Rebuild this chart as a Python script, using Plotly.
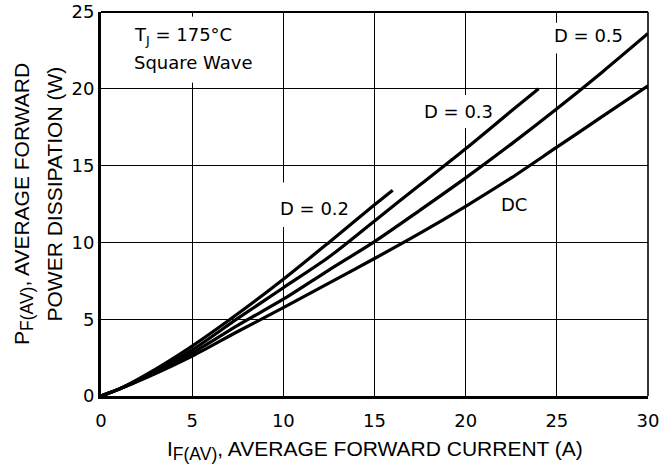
import plotly.graph_objects as go

# ---- data ----
current_d02 = [0, 1, 2.5, 5, 7.5, 10, 12.5, 15, 16]
power_d02 = [0, 0.45, 1.4, 3.25, 5.35, 7.6, 10.0, 12.45, 13.4]

current_d03 = [0, 1, 2.5, 5, 7.5, 10, 12.5, 15, 17.5, 20, 22.5, 24]
power_d03 = [0, 0.45, 1.3, 3.0, 5.05, 7.05, 9.05, 11.4, 13.75, 16.1, 18.55, 20.0]

current_d05 = [0, 1, 2.5, 5, 7.5, 10, 12.5, 15, 17.5, 20, 22.5, 25, 27.5, 30]
power_d05 = [0, 0.45, 1.25, 2.8, 4.6, 6.3, 8.2, 10.05, 12.1, 14.2, 16.4, 18.7, 21.1, 23.6]

current_dc = [0, 1, 2.5, 5, 7.5, 10, 12.5, 15, 17.5, 20, 22.5, 25, 27.5, 30]
power_dc = [0, 0.45, 1.2, 2.6, 4.2, 5.75, 7.35, 8.95, 10.6, 12.35, 14.2, 16.2, 18.2, 20.2]

x_ticks = [0, 5, 10, 15, 20, 25, 30]
y_ticks = [0, 5, 10, 15, 20, 25]

series = [
    ("D = 0.2", current_d02, power_d02),
    ("D = 0.3", current_d03, power_d03),
    ("D = 0.5", current_d05, power_d05),
    ("DC", current_dc, power_dc),
]

TICK_FONT = dict(family="DejaVu Sans", size=18, color="black")
LABEL_FONT = dict(family="DejaVu Sans", size=18, color="black")
TITLE_FONT = dict(family="Liberation Sans", size=21, color="black")

fig = go.Figure()
for name, xs, ys in series:
    fig.add_trace(go.Scatter(x=xs, y=ys, mode="lines", name=name,
                             line=dict(color="black", width=3.2, shape="spline", smoothing=0.8),
                             showlegend=False, hoverinfo="skip"))

axis_common = dict(showgrid=True, gridcolor="black", gridwidth=1, zeroline=False,
                   showline=True, linecolor="black", linewidth=3, mirror=False,
                   ticks="", tickfont=TICK_FONT, automargin=False,
                   ticklabeloverflow="allow")

fig.update_layout(
    xaxis=dict(range=[0, 30], tickvals=x_ticks, ticktext=[str(v) for v in x_ticks],
               ticklabelstandoff=6, **axis_common),
    yaxis=dict(range=[0, 25], tickvals=y_ticks, ticktext=[str(v) for v in y_ticks],
               ticklabelstandoff=0, **axis_common),
)

# thin top and right frame
fig.add_shape(type="line", xref="paper", yref="paper", x0=0, x1=1, y0=1, y1=1,
              line=dict(color="black", width=1.8), layer="above")
fig.add_shape(type="line", xref="paper", yref="paper", x0=1, x1=1, y0=0, y1=1,
              line=dict(color="black", width=1.6), layer="above")

# white breaks in the grid behind the labels (above grid, below curves)
grid_breaks = [(5, 20.4, 24.7), (10, 11.0, 13.9), (20, 17.45, 19.6), (25, 22.3, 24.3)]
for gx, ya, yb in grid_breaks:
    fig.add_shape(type="rect", xref="x", yref="y", x0=gx - 0.15, x1=gx + 0.15, y0=ya, y1=yb,
                  fillcolor="white", line=dict(width=0), layer="between")

def label(text, x, y):
    fig.add_annotation(text=text, x=x, y=y, xref="x", yref="y", showarrow=False,
                       font=LABEL_FONT, xanchor="center", yanchor="middle")

label("T<sub>J</sub> = 175°C", 4.5, 23.45)
label("Square Wave", 5.08, 21.7)
label("D = 0.2", 11.7, 12.2)
label("D = 0.3", 19.58, 18.5)
label("D = 0.5", 26.74, 23.45)
label("DC", 22.63, 12.5)

# axis titles
fig.add_annotation(text="I<sub><span style='font-size:17.5px'>F(AV)</span></sub>, AVERAGE FORWARD CURRENT (A)",
                   xref="paper", yref="paper", x=0.5, y=-0.142, showarrow=False,
                   font=TITLE_FONT, xanchor="center", yanchor="middle")
fig.add_annotation(text="P<sub><span style='font-size:17.5px'>F(AV)</span></sub>, AVERAGE FORWARD",
                   xref="paper", yref="paper", x=-0.1426, y=0.5, showarrow=False,
                   font=TITLE_FONT, textangle=-90, xanchor="center", yanchor="middle")
fig.add_annotation(text="POWER DISSIPATION (W)",
                   xref="paper", yref="paper", x=-0.085, y=0.526, showarrow=False,
                   font=TITLE_FONT, textangle=-90, xanchor="center", yanchor="middle")

fig.update_layout(width=666, height=467, margin=dict(l=101, r=18, t=12, b=71),
                  plot_bgcolor="white", paper_bgcolor="white")

fig.write_html("out.html", config={"displayModeBar": False},
               post_script="document.body.style.margin='0';document.body.style.overflow='hidden';")
